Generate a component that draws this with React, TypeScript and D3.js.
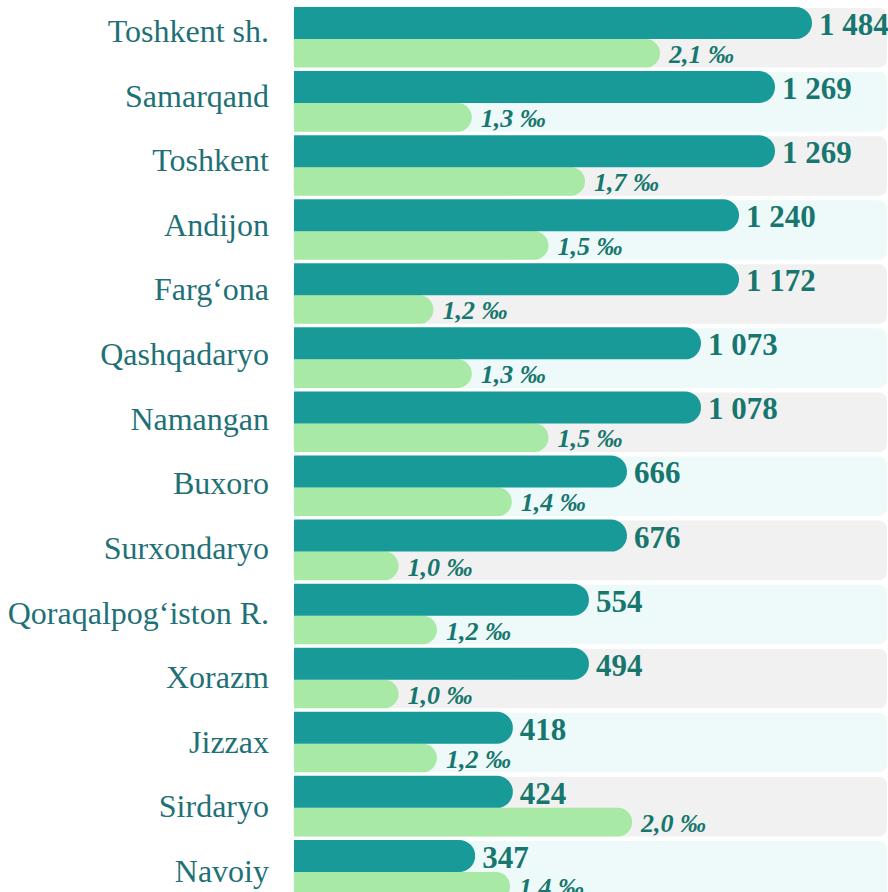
import React, { useEffect, useRef } from 'react';
import * as d3 from 'd3';

// regions, top to bottom
const regions = [
  'Toshkent sh.', 'Samarqand', 'Toshkent', 'Andijon', 'Farg\u2018ona', 'Qashqadaryo', 'Namangan',
  'Buxoro', 'Surxondaryo', 'Qoraqalpog\u2018iston R.', 'Xorazm', 'Jizzax', 'Sirdaryo', 'Navoiy',
];

// printed labels
const countLabels = ['1 484', '1 269', '1 269', '1 240', '1 172', '1 073', '1 078', '666', '676', '554', '494', '418', '424', '347'];
const rateLabels = ['2,1', '1,3', '1,7', '1,5', '1,2', '1,3', '1,5', '1,4', '1,0', '1,2', '1,0', '1,2', '2,0', '1,4'];

// bar lengths as drawn in the picture (the artwork does not scale them to the labels)
const countBars = [1484, 1378, 1378, 1275, 1275, 1166, 1166, 954, 954, 845, 845, 627, 627, 519];
const rateBars = [2.1, 1.02, 1.67, 1.46, 0.8, 1.02, 1.46, 1.25, 0.6, 0.82, 0.6, 0.82, 1.94, 1.24];

const W = 888;
const H = 892;
const serif = '"Liberation Serif", "Times New Roman", serif';

// bar with a square left end and a round right end
function pill(x0: number, x1: number, y: number, h: number) {
  const r = Math.min(h / 2, (x1 - x0) / 2);
  return `M${x0},${y}H${x1 - r}A${r},${r} 0 0 1 ${x1},${y + r}V${y + h - r}A${r},${r} 0 0 1 ${x1 - r},${y + h}H${x0}Z`;
}

export default function App() {
  const ref = useRef<SVGSVGElement>(null);

  useEffect(() => {
    const svg = d3.select(ref.current);
    svg.selectAll('*').remove();

    const left = 294;
    const y = d3.scaleBand().domain(regions).range([8, 8 + 14 * 63.75]).paddingInner(0.07).paddingOuter(0);
    const yLabel = d3.scalePoint().domain(regions).range([42, 882]);
    const xCount = d3.scaleLinear().domain([0, 1484]).range([left, 812]);
    const xRate = d3.scaleLinear().domain([0, 2.1]).range([left, 660]);
    const bw = y.bandwidth();
    const tealH = 32;

    const rows = svg.selectAll('g.row')
      .data(regions)
      .enter()
      .append('g')
        .attr('class', 'row');

    rows.append('rect')
      .attr('x', left - 1)
      .attr('y', d => y(d)!)
      .attr('width', W - 1 - (left - 1))
      .attr('height', bw)
      .attr('rx', 8)
      .style('fill', (d, i) => i % 2 === 0 ? '#f1f1f1' : '#eefafa');

    rows.append('text')
      .attr('x', 269)
      .attr('y', d => yLabel(d)!)
      .attr('text-anchor', 'end')
      .style('font-family', serif)
      .style('font-size', '32px')
      .style('fill', '#1f7177')
      .text(d => d);

    rows.append('path')
      .attr('d', (d, i) => pill(left, xRate(rateBars[i]), y(d)! + tealH - 1, bw - tealH + 1))
      .style('fill', '#a8e9a5');

    rows.append('path')
      .attr('d', (d, i) => pill(left, xCount(countBars[i]), y(d)! - 1, tealH))
      .style('fill', '#179a98');

    rows.append('text')
      .attr('x', (d, i) => xCount(countBars[i]) + 7)
      .attr('y', (d) => y(d)! + 27)
      .style('font-family', serif)
      .style('font-weight', 'bold')
      .style('font-size', '31px')
      .style('fill', '#17776f')
      .text((d, i) => countLabels[i]);

    rows.append('text')
      .attr('x', (d, i) => xRate(rateBars[i]) + 9)
      .attr('y', (d) => y(d)! + 55)
      .style('font-family', serif)
      .style('font-weight', 'bold')
      .style('font-style', 'italic')
      .style('font-size', '26px')
      .style('fill', '#17776f')
      .text((d, i) => `${rateLabels[i]} \u2030`);
  }, []);

  return (
    <svg ref={ref} width={W} height={H} style={{ position: 'absolute', left: 0, top: 0, background: '#fff' }}></svg>
  );
}
